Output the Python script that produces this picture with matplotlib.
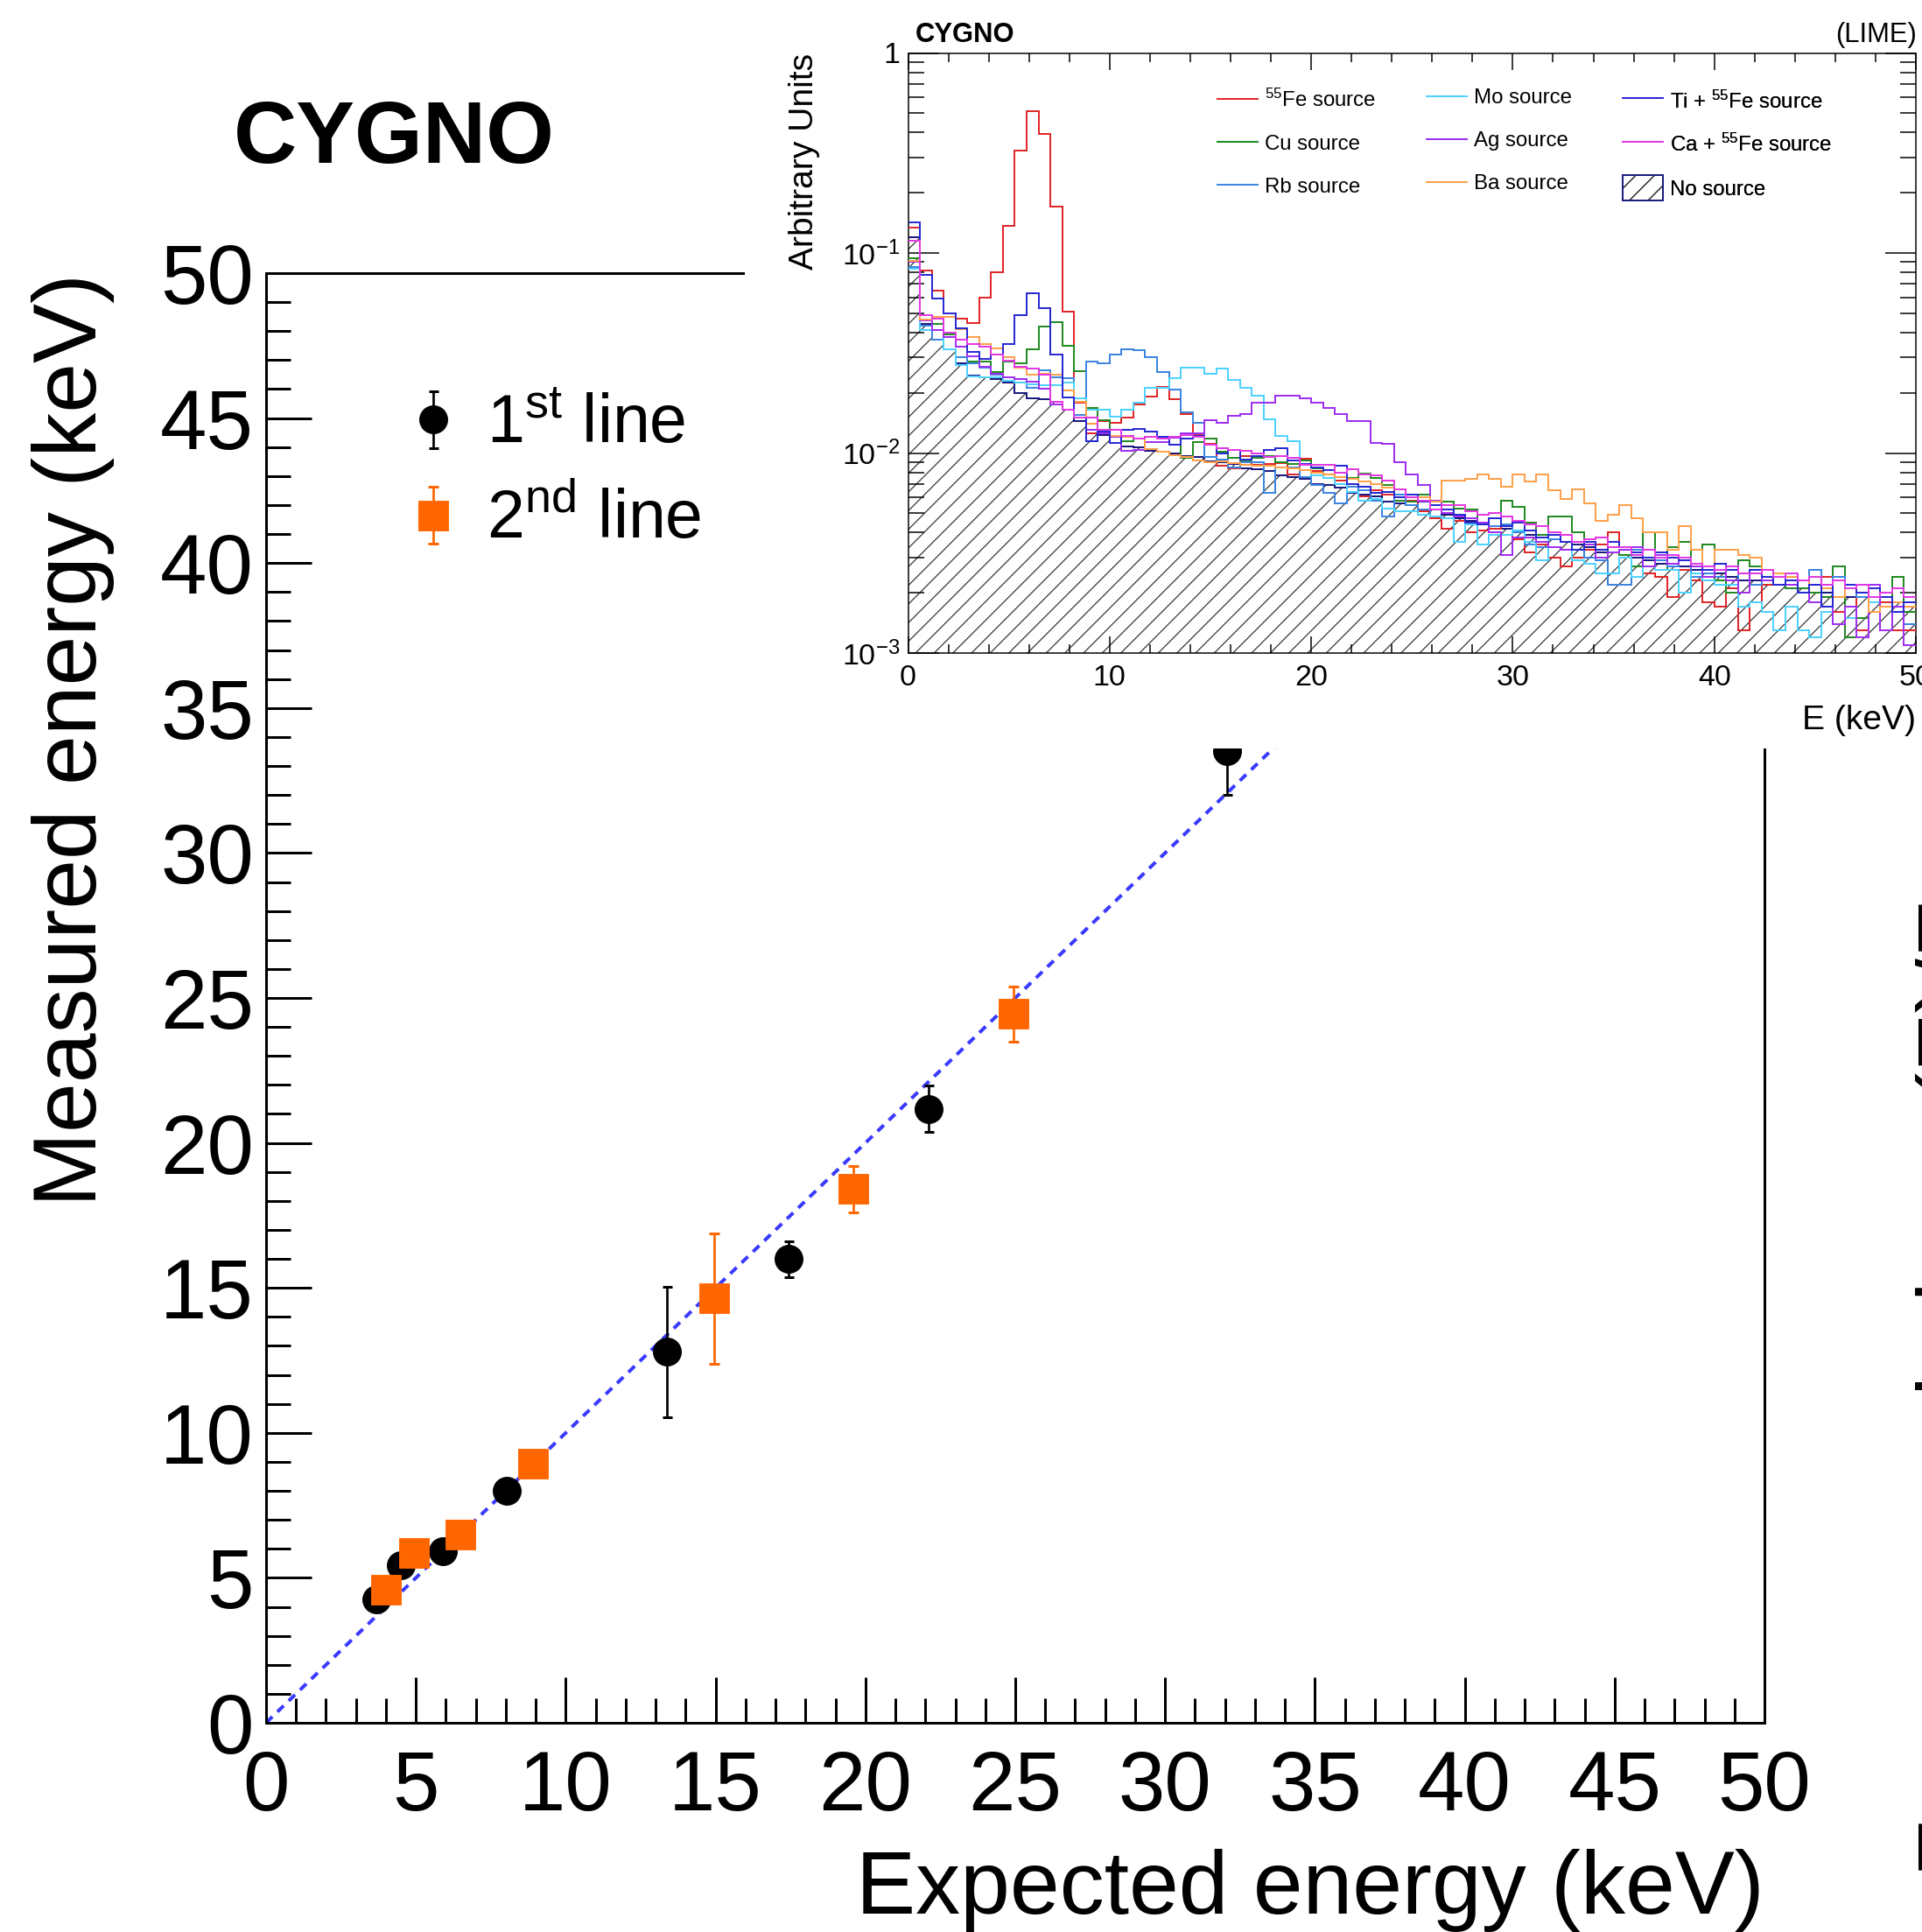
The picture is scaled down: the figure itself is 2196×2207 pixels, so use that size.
import numpy as np
import matplotlib
matplotlib.use("Agg")
import matplotlib.pyplot as plt
from matplotlib import font_manager
from matplotlib.patches import Rectangle, Patch
from matplotlib.lines import Line2D
from matplotlib.ticker import MultipleLocator, FixedLocator, FixedFormatter, LogLocator, NullFormatter
from matplotlib.legend_handler import HandlerErrorbar
from matplotlib.container import ErrorbarContainer

# ---------------- main plot data ----------------
expected_1st = [3.69, 4.51, 5.90, 8.04, 13.37, 17.44, 22.10, 32.06]
measured_1st = [4.25, 5.44, 5.91, 7.99, 12.80, 15.99, 21.17, 33.50]
err_1st = [0.15, 0.15, 0.15, 0.15, 2.25, 0.63, 0.8, 1.5]

expected_2nd = [4.01, 4.93, 6.49, 8.90, 14.96, 19.61, 24.94]
measured_2nd = [4.59, 5.87, 6.50, 8.93, 14.63, 18.41, 24.45]
err_2nd = [0.15, 0.15, 0.15, 0.15, 2.25, 0.8, 0.95]

ref_line_x = [0, 50]
ref_line_y = [0, 50]

# ---------------- inset histogram data (units of 1e-4) ----------------
E_MIN, E_MAX = 0.0, 50.0

nosrc = [1200, 440, 370, 330, 280, 245, 240, 235, 226, 200,
         188, 186, 180, 164, 145, 125, 123, 112, 108, 107,
         103, 102, 99, 97, 96, 91, 90, 88, 84, 83,
         81, 77, 76, 74, 70, 69, 67, 63, 62, 61,
         57, 56, 55, 52, 52, 49, 47, 46, 45, 43,
         42, 41, 39, 38, 37, 36, 35, 34, 32, 32,
         31, 30, 29, 28, 27, 27, 26, 25, 25, 24,
         23, 23, 22, 22, 21, 21, 20, 20, 19, 19,
         19, 19, 18, 18, 17]

fe55 = [1340, 820, 650, 500, 470, 445, 600, 800, 1370, 3250,
        5130, 3930, 1700, 510, 179, 126, 144, 142, 150, 175,
        192, 213, 186, 156, 124, 111, 86, 84, 97, 87,
        88, 89, 78, 94, 81, 75, 73, 64, 61, 65,
        62, 66, 58, 51, 47, 42, 46, 40, 41, 42,
        43, 37, 32, 35, 30, 27, 30, 33, 35, 40,
        34, 33, 25, 24, 19, 26, 23, 18, 17, 21,
        13, 18, 22, 22, 24, 21, 22, 24, 16, 21,
        13, 18, 18, 13, 13]

cu = [940, 460, 440, 390, 340, 286, 286, 255, 286, 280,
      330, 430, 450, 345, 256, 168, 146, 121, 115, 118,
      121, 118, 110, 95, 113, 118, 102, 95, 92, 95,
      97, 90, 88, 92, 84, 78, 76, 75, 79, 75,
      69, 58, 57, 62, 58, 57, 53, 52, 44, 43,
      58, 54, 45, 39, 48, 48, 40, 35, 33, 32,
      31, 27, 40, 26, 34, 36, 27, 35, 23, 20,
      29, 27, 24, 22, 21, 21, 20, 19, 27, 12,
      15, 18, 19, 24, 16]

rb = [850, 435, 370, 330, 300, 280, 267, 246, 238, 234,
      211, 258, 238, 236, 155, 286, 282, 310, 330, 327,
      300, 254, 208, 160, 142, 96, 93, 85, 90, 90,
      63, 85, 85, 76, 69, 63, 56, 68, 65, 58,
      48, 62, 55, 52, 48, 47, 48, 45, 44, 43,
      44, 40, 35, 34, 37, 36, 33, 30, 29, 22,
      22, 33, 30, 29, 27, 29, 24, 25, 24, 26,
      20, 22, 24, 22, 23, 20, 26, 22, 24, 21,
      19, 21, 19, 17, 14]

mo = [830, 410, 410, 330, 276, 242, 240, 238, 230, 226,
      220, 218, 218, 226, 188, 164, 164, 152, 165, 179,
      212, 212, 236, 267, 267, 250, 265, 232, 212, 194,
      147, 122, 115, 88, 77, 75, 70, 64, 58, 59,
      53, 51, 51, 49, 48, 47, 36, 44, 35, 39,
      39, 41, 36, 29, 40, 36, 29, 28, 25, 25,
      30, 24, 27, 26, 26, 20, 25, 23, 22, 22,
      17, 18, 16, 13, 17, 13, 12, 16, 14, 15,
      12, 18, 19, 18, 18]

ag = [900, 460, 410, 380, 340, 305, 270, 250, 240, 235,
      227, 210, 175, 165, 150, 130, 126, 120, 103, 104,
      113, 113, 119, 125, 125, 146, 141, 153, 156, 179,
      179, 194, 194, 187, 179, 168, 157, 144, 144, 112,
      111, 90, 78, 69, 58, 50, 48, 47, 45, 40,
      31, 38, 38, 36, 34, 33, 33, 35, 30, 32,
      33, 34, 27, 31, 28, 30, 27, 24, 26, 23,
      20, 25, 23, 25, 22, 20, 18, 22, 14, 17,
      12, 22, 13, 17, 11]

ba = [910, 465, 480, 480, 415, 380, 350, 335, 300, 267,
      246, 250, 246, 205, 180, 140, 128, 122, 120, 118,
      105, 102, 98, 96, 92, 90, 91, 89, 87, 86,
      86, 85, 84, 82, 80, 78, 76, 74, 72, 70,
      67, 66, 62, 60, 57, 73, 73, 74, 78, 74,
      68, 78, 72, 78, 65, 59, 66, 56, 46, 49,
      55, 47, 40, 40, 33, 43, 33, 26, 33, 33,
      31, 30, 26, 25, 24, 23, 22, 21, 19, 21,
      20, 16, 17, 18, 17]

ti_fe = [1430, 780, 590, 500, 420, 320, 295, 310, 350, 490,
         630, 530, 310, 190, 150, 115, 128, 112, 130, 132,
         128, 121, 110, 118, 122, 110, 100, 104, 93, 97,
         104, 106, 92, 88, 85, 82, 86, 70, 68, 63,
         64, 60, 62, 57, 55, 52, 49, 45, 44, 47,
         43, 45, 41, 38, 39, 36, 33, 36, 33, 36,
         34, 32, 30, 32, 30, 29, 28, 26, 28, 26,
         25, 26, 24, 22, 23, 20, 22, 17, 23, 22,
         20, 21, 19, 16, 18]

ca_fe = [1150, 490, 470, 400, 370, 350, 340, 310, 290, 270,
         265, 246, 180, 164, 150, 150, 130, 130, 122, 118,
         120, 118, 120, 123, 120, 110, 106, 104, 103, 100,
         96, 97, 95, 87, 87, 87, 80, 83, 78, 77,
         73, 66, 60, 58, 52, 55, 55, 51, 49, 50,
         48, 46, 44, 43, 40, 39, 36, 37, 38, 34,
         34, 31, 33, 30, 31, 30, 28, 27, 26, 27,
         25, 25, 26, 24, 25, 23, 24, 22, 23, 21,
         22, 19, 20, 21, 19]

series_labels = [r"$^{55}$Fe source", "Cu source", "Rb source",
                 "Mo source", "Ag source", "Ba source",
                 r"Ti + $^{55}$Fe source", r"Ca + $^{55}$Fe source"]
series_values = [fe55, cu, rb, mo, ag, ba, ti_fe, ca_fe]
series_colors = ["#e0282a", "#238b23", "#3d85e0", "#4fd2ff",
                 "#a030f0", "#ffa04a", "#2a2ad4", "#e23ae2"]
nosrc_label = "No source"
UNIT = 1e-4

# ---------------- figure setup ----------------
W, H = 2196, 2207
DPI = 64


def pt(px):
    return px * 72.0 / DPI


def fx(px):
    return px / W


def fy(py):
    return 1.0 - py / H


plt.rcParams["font.family"] = ["Liberation Sans", "DejaVu Sans"]
plt.rcParams["mathtext.fontset"] = "custom"
plt.rcParams["mathtext.rm"] = "Liberation Sans"
plt.rcParams["mathtext.it"] = "Liberation Sans:italic"
plt.rcParams["mathtext.bf"] = "Liberation Sans:bold"
plt.rcParams["mathtext.default"] = "regular"
plt.rcParams["hatch.linewidth"] = pt(1.2)

names = {f.name for f in font_manager.fontManager.ttflist}
if "Liberation Sans Narrow" in names:
    LEG_FAMILY, LEG_PX = ["Liberation Sans Narrow", "Liberation Sans"], 29.0
else:
    LEG_FAMILY, LEG_PX = ["Liberation Sans", "DejaVu Sans"], 24.0

fig = plt.figure(figsize=(W / DPI, H / DPI), dpi=DPI)
fig.patch.set_facecolor("white")

# ---------------- main axes ----------------
ax = fig.add_axes([fx(304), fy(1968), (2016 - 304) / W, (1968 - 312) / H], zorder=0)
ax.set_xlim(0, 50)
ax.set_ylim(0, 50)

ax.plot(ref_line_x, ref_line_y, ls=(0, (2.5, 2.0)), color="#3a3aff", lw=pt(4), zorder=1)

eb1 = ax.errorbar(expected_1st, measured_1st, yerr=err_1st, fmt="o", color="black",
                  ms=pt(32), elinewidth=pt(2.7), capsize=pt(5.5), capthick=pt(3),
                  label=r"1$^{\mathregular{st}}$ line", zorder=3)
eb2 = ax.errorbar(expected_2nd, measured_2nd, yerr=err_2nd, fmt="s", color="#ff6600",
                  ms=pt(34), elinewidth=pt(2.7), capsize=pt(6), capthick=pt(3),
                  label=r"2$^{\mathregular{nd}}$ line", zorder=4)

ax.xaxis.set_major_locator(MultipleLocator(5))
ax.xaxis.set_minor_locator(MultipleLocator(1))
ax.yaxis.set_major_locator(MultipleLocator(5))
ax.yaxis.set_minor_locator(MultipleLocator(1))
ax.tick_params(which="both", direction="in", top=False, right=False, width=pt(3))
ax.tick_params(which="major", length=pt(52))
ax.tick_params(which="minor", length=pt(28))
ax.tick_params(axis="x", which="major", labelsize=pt(96), pad=pt(30))
ax.tick_params(axis="y", which="major", labelsize=pt(96), pad=pt(14))
for s in ax.spines.values():
    s.set_linewidth(pt(3))

ax.legend(handles=[eb1, eb2], loc="upper left", bbox_to_anchor=(0.0891, 0.917),
          frameon=False, fontsize=pt(77), handlelength=1.0, handletextpad=0.29,
          borderpad=0, borderaxespad=0, labelspacing=0.46, numpoints=1,
          handler_map={ErrorbarContainer: HandlerErrorbar(yerr_size=0.42)})

fig.text(fx(2016), fy(2186), "Expected energy (keV)", ha="right", va="baseline",
         fontsize=pt(102))
fig.text(fx(84), fy(312), "Measured energy (keV)", rotation=90, ha="center", va="top",
         fontsize=pt(102))
fig.text(fx(267), fy(186), "CYGNO", fontweight="bold", fontsize=pt(100),
         ha="left", va="baseline")

# white area behind the inset
fig.add_artist(Rectangle((fx(851), fy(855)), 1 - fx(851), 855 / H,
                         transform=fig.transFigure, facecolor="white",
                         edgecolor="none", zorder=1))

# partial label of a neighbouring panel at the right edge
fig.text(fx(2189), fy(1585), "Energy resolution σ(E)/E", rotation=90, ha="left",
         va="center", fontsize=pt(102), zorder=5)

# ---------------- inset ----------------
ax2 = fig.add_axes([fx(1037.5), fy(746), 1151.5 / W, 685.5 / H], zorder=2)
ax2.set_facecolor("white")
ax2.set_yscale("log")
ax2.set_xlim(E_MIN, E_MAX)
ax2.set_ylim(1e-3, 1)

edges = np.linspace(E_MIN, E_MAX, len(nosrc) + 1)
nosrc_v = np.array(nosrc) * UNIT
ax2.stairs(nosrc_v, edges, baseline=1e-6, fill=True, facecolor="none",
           edgecolor="#303030", hatch="/", linewidth=0, zorder=1)
ax2.stairs(nosrc_v, edges, baseline=None, color="#1a1a80", lw=pt(2), zorder=2)

for vals, col in zip(series_values, series_colors):
    ax2.stairs(np.array(vals) * UNIT, edges, baseline=None, color=col, lw=pt(2), zorder=3)

ax2.xaxis.set_major_locator(MultipleLocator(10))
ax2.xaxis.set_minor_locator(MultipleLocator(2))
ax2.yaxis.set_major_locator(FixedLocator([1e-3, 1e-2, 1e-1, 1]))
ax2.yaxis.set_major_formatter(FixedFormatter([r"$10^{-3}$", r"$10^{-2}$", r"$10^{-1}$", "1"]))
ax2.yaxis.set_minor_locator(LogLocator(base=10, subs=(2, 3, 4, 5, 6, 7, 8, 9)))
ax2.yaxis.set_minor_formatter(NullFormatter())
ax2.tick_params(which="both", direction="in", top=True, right=True, width=pt(1.5))
ax2.tick_params(axis="x", which="major", length=pt(19), labelsize=pt(34), pad=pt(13))
ax2.tick_params(axis="x", which="minor", length=pt(10))
ax2.tick_params(axis="y", which="major", length=pt(35), labelsize=pt(34), pad=pt(9))
ax2.tick_params(axis="y", which="minor", length=pt(18))
for s in ax2.spines.values():
    s.set_linewidth(pt(1.5))

fig.text(fx(1046), fy(48), "CYGNO", fontweight="bold", fontsize=pt(31), ha="left", va="baseline")
fig.text(fx(2190), fy(48), "(LIME)", fontsize=pt(31), ha="right", va="baseline")
fig.text(fx(919), fy(60.5), "Arbitrary Units", rotation=90, ha="center", va="top",
         fontsize=pt(39))
fig.text(fx(2189), fy(833), "E (keV)", ha="right", va="baseline", fontsize=pt(39))

# inset legend, three columns
handles = [Line2D([], [], color=c, lw=pt(2)) for c in series_colors]
nosrc_handle = (Patch(facecolor="none", edgecolor="#303030", hatch="/", lw=0),
                Patch(facecolor="none", edgecolor="#1a1a80", lw=pt(1.8)))
TEXT_H = 23.0
# (handles, labels, left px, handle height, extra spacing, top shift px)
cols = [(handles[0:3], series_labels[0:3], 1391, 0.7, 0.0, 0.0),
        (handles[3:6], series_labels[3:6], 1630, 0.7, 0.0, 0.0),
        (handles[6:8] + [nosrc_handle], series_labels[6:8] + [nosrc_label], 1854, 1.5, 0.26, 6.0)]
for hs, ls_, xpx, hh, extra, shift in cols:
    row_h = max(TEXT_H, hh * LEG_PX)
    spacing = (50.0 - row_h) / LEG_PX + extra
    top = 113.0 - row_h / 2.0 + shift
    lg = ax2.legend(hs, ls_, loc="upper left", bbox_to_anchor=(fx(xpx), fy(top)),
                    bbox_transform=fig.transFigure, frameon=False,
                    prop={"family": LEG_FAMILY, "size": pt(LEG_PX)},
                    handlelength=46.0 / LEG_PX, handletextpad=8.0 / LEG_PX,
                    handleheight=hh, borderpad=0, borderaxespad=0,
                    labelspacing=spacing)
    ax2.add_artist(lg)

fig.savefig("out.png", dpi=DPI, facecolor="white")
